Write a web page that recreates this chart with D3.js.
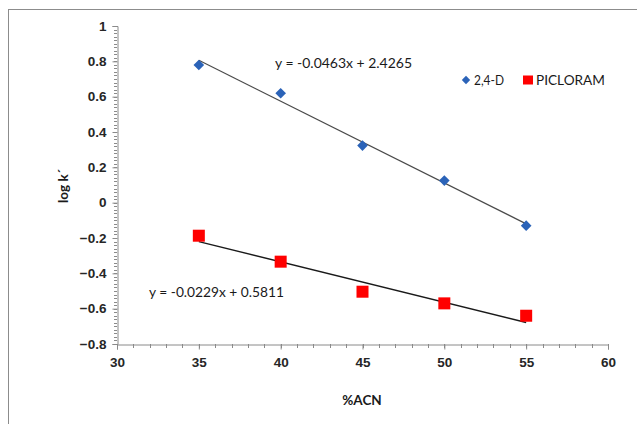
<!DOCTYPE html>
<html><head><meta charset="utf-8">
<script src="https://cdn.jsdelivr.net/npm/d3@7"></script>
<style>
body{margin:0;background:#fff;}
svg{display:block;font-family:Lato,"Open Sans",sans-serif;}
</style></head>
<body><svg id="c" width="637" height="424"></svg>
<script>
const acn = [35, 40, 45, 50, 55];
const d24 = [0.779, 0.619, 0.323, 0.125, -0.13];
const picloram = [-0.187, -0.334, -0.504, -0.57, -0.64];
const seriesNames = ["2,4-D", "PICLORAM"];
const fit24 = {slope: -0.0463, intercept: 2.4265, label: "y = -0.0463x + 2.4265"};
const fitPic = {slope: -0.0229, intercept: 0.5811, label: "y = -0.0229x + 0.5811"};
const xTicks = [30, 35, 40, 45, 50, 55, 60];
const yTicks = [-0.8, -0.6, -0.4, -0.2, 0, 0.2, 0.4, 0.6, 0.8, 1];

const svg = d3.select("#c");
svg.append("rect").attr("x",8.5).attr("y",9.5).attr("width",640).attr("height",430)
  .attr("fill","#fff").attr("stroke","#8c8c8c").attr("stroke-width",1);

const x = d3.scaleLinear().domain([30,60]).range([117,608]);
const y = d3.scaleLinear().domain([-0.8,1]).range([344,26]);
const axisColor = "#8a8a8a";

// y minor ticks
const yMinor = d3.range(-0.8, 1.0001, 0.02);
svg.append("g").selectAll("line").data(yMinor).join("line")
  .attr("x1", x(30)-3).attr("x2", x(30))
  .attr("y1", d=>Math.round(y(d))+0.5).attr("y2", d=>Math.round(y(d))+0.5)
  .attr("stroke", axisColor).attr("stroke-width",1);
// x minor ticks
const xMinor = d3.range(30, 60.001, 1);
svg.append("g").selectAll("line").data(xMinor).join("line")
  .attr("x1", d=>Math.round(x(d))+0.5).attr("x2", d=>Math.round(x(d))+0.5)
  .attr("y1", y(-0.8)).attr("y2", y(-0.8)+4)
  .attr("stroke", axisColor).attr("stroke-width",1);

const yAxis = d3.axisLeft(y).tickValues(yTicks).tickSize(5).tickPadding(6)
  .tickFormat(d=> d===0 ? "0" : d3.format("")(+d.toFixed(1)));
const gy = svg.append("g").attr("transform",`translate(${x(30)+0.5},0)`).call(yAxis);
const xAxis = d3.axisBottom(x).tickValues(xTicks).tickSize(5).tickPadding(8).tickFormat(d3.format("d"));
const gx = svg.append("g").attr("transform",`translate(0,${y(-0.8)+0.5})`).call(xAxis);
[gx,gy].forEach(g=>{
  g.select(".domain").attr("stroke",axisColor);
  g.selectAll(".tick line").attr("stroke",axisColor);
  g.selectAll("text").attr("fill","#262626").attr("font-size",13.5).attr("font-weight","bold");
});

// trendlines
const line = d3.line().x(d=>x(d[0])).y(d=>y(d[1]));
svg.append("path").datum([35,55].map(v=>[v, fit24.slope*v+fit24.intercept]))
  .attr("d",line).attr("stroke","#4a4a4a").attr("stroke-width",1.2).attr("fill","none");
svg.append("path").datum([35,55].map(v=>[v, fitPic.slope*v+fitPic.intercept]))
  .attr("d",line).attr("stroke","#1a1a1a").attr("stroke-width",1.4).attr("fill","none");

// markers
const blue = "#2b63b8", red = "#ff0000";
const diamond = d3.symbol().type(d3.symbolDiamond2).size(72);
svg.append("g").selectAll("path").data(acn.map((a,i)=>[a,d24[i]])).join("path")
  .attr("transform",d=>`translate(${x(d[0])},${y(d[1])})`)
  .attr("d",diamond).attr("fill",blue);
svg.append("g").selectAll("rect").data(acn.map((a,i)=>[a,picloram[i]])).join("rect")
  .attr("x",d=>x(d[0])-6).attr("y",d=>y(d[1])-6).attr("width",12).attr("height",12)
  .attr("fill",red);

// equations
svg.append("text").attr("x",275).attr("y",68).text(fit24.label)
  .attr("font-size",13.5).attr("fill","#1a1a1a").attr("textLength",137).attr("lengthAdjust","spacingAndGlyphs");
svg.append("text").attr("x",149).attr("y",297).text(fitPic.label)
  .attr("font-size",13.5).attr("fill","#1a1a1a").attr("textLength",135).attr("lengthAdjust","spacingAndGlyphs");

// legend
svg.append("path").attr("transform","translate(466,80)").attr("d",d3.symbol().type(d3.symbolDiamond2).size(45)).attr("fill",blue);
svg.append("text").attr("x",474).attr("y",85).text(seriesNames[0]).attr("font-size",13.5).attr("fill","#1a1a1a")
  .attr("textLength",30).attr("lengthAdjust","spacingAndGlyphs");
svg.append("rect").attr("x",523).attr("y",75.5).attr("width",10).attr("height",9).attr("fill",red);
svg.append("text").attr("x",536).attr("y",85).text(seriesNames[1]).attr("font-size",13.5).attr("fill","#1a1a1a")
  .attr("textLength",69).attr("lengthAdjust","spacingAndGlyphs");

// axis titles
svg.append("text").attr("transform","translate(68,186) rotate(-90)").attr("text-anchor","middle")
  .text("log k´").attr("font-size",13.5).attr("font-weight","bold").attr("fill","#1a1a1a");
svg.append("text").attr("x",362).attr("y",405).attr("text-anchor","middle")
  .text("%ACN").attr("font-size",13.5).attr("font-weight","bold").attr("fill","#1a1a1a");
</script></body></html>
